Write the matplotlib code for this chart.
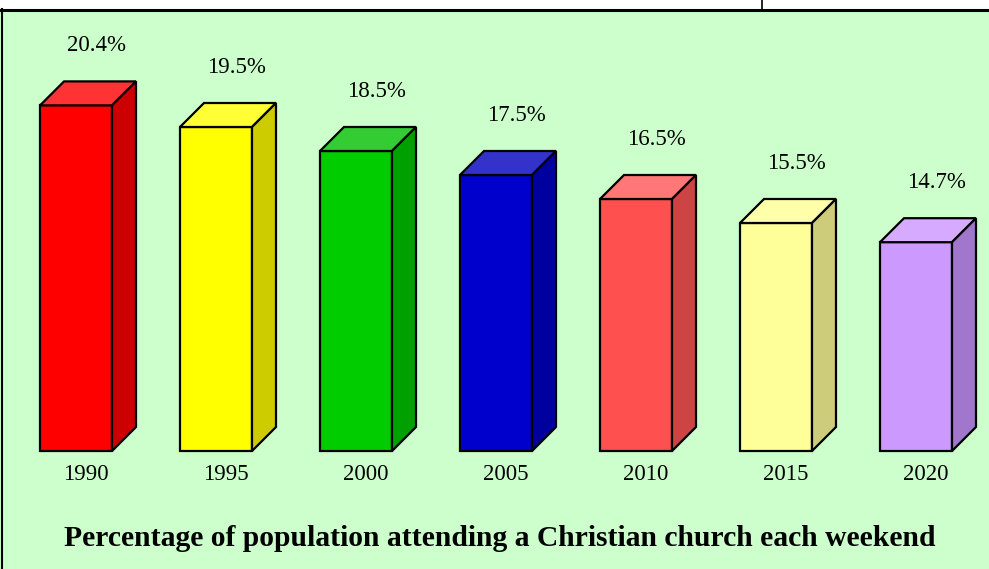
import matplotlib
matplotlib.use('Agg')
import matplotlib.pyplot as plt
from matplotlib.patches import Polygon, Rectangle
from matplotlib.lines import Line2D

years = ['1990', '1995', '2000', '2005', '2010', '2015', '2020']
values = [20.4, 19.5, 18.5, 17.5, 16.5, 15.5, 14.7]
labels = ['20.4%', '19.5%', '18.5%', '17.5%', '16.5%', '15.5%', '14.7%']
title = 'Percentage of population attending a Christian church each weekend'

front = ['#FF0000', '#FFFF00', '#00CC00', '#0000CC', '#FF5050', '#FFFF99', '#CC99FF']
top = ['#FF3333', '#FFFF33', '#33CC33', '#3333CC', '#FF7777', '#FFFFAA', '#D5AAFF']
side = ['#CC0000', '#CCCC00', '#00A000', '#00009F', '#CC4444', '#CCCC7A', '#A077CC']

plt.rcParams['font.family'] = ['Liberation Serif', 'DejaVu Serif']

W, H = 989, 569
fig = plt.figure(figsize=(W/100, H/100), dpi=100, facecolor='white')
ax = fig.add_axes([0, 0, 1, 1])
ax.set_facecolor('none')
ax.axis('off')

# pixel layout: 140 px per category, 24 px per percent, base at 6%
step = 140.0
ppv = 24.0
base = 6.0
x0pix, base_pix = 76.0, 451.0
ax.set_xlim(-x0pix/step, (W - x0pix)/step)
ax.set_ylim(base - (H - base_pix)/ppv, base + base_pix/ppv)

# green panel and frame lines
ax.add_patch(Rectangle((0, 0), 1, (H - 10)/H, transform=ax.transAxes,
                       facecolor='#CCFFCC', edgecolor='none', zorder=0, clip_on=False))
fig.lines.append(Line2D([0, 1], [(H - 9.5)/H]*2, transform=fig.transFigure, color='black', lw=2.2))
fig.lines.append(Line2D([2/W, 2/W], [0, (H - 9)/H], transform=fig.transFigure, color='black', lw=1.5))
fig.lines.append(Line2D([762/W, 762/W], [(H - 9)/H, 1], transform=fig.transFigure, color='black', lw=1.2))

w = 72/step
dx, dy = 24/step, 24/ppv
for i, v in enumerate(values):
    xl = i - w/2
    xr = i + w/2
    ax.add_patch(Polygon([(xl, base), (xl, v), (xr, v), (xr, base)], closed=True,
                         facecolor=front[i], edgecolor='black', lw=1.6, zorder=3))
    ax.add_patch(Polygon([(xl, v), (xl+dx, v+dy), (xr+dx, v+dy), (xr, v)], closed=True,
                         facecolor=top[i], edgecolor='black', lw=1.6, zorder=3, joinstyle='miter'))
    ax.add_patch(Polygon([(xr, base), (xr+dx, base+dy), (xr+dx, v+dy), (xr, v)], closed=True,
                         facecolor=side[i], edgecolor='black', lw=1.6, zorder=3, joinstyle='miter'))
    ax.text(i + 20/step, v + dy + 36/ppv, labels[i], ha='center', va='center', fontsize=16.5)
    ax.text(i + 10/step, base - 24/ppv, years[i], ha='center', va='center', fontsize=16.5)

fig.text(500/W, 1 - 538/H, title, ha='center', va='center', fontsize=21.3, fontweight='bold')

fig.savefig('out.png', dpi=100, facecolor='white')
